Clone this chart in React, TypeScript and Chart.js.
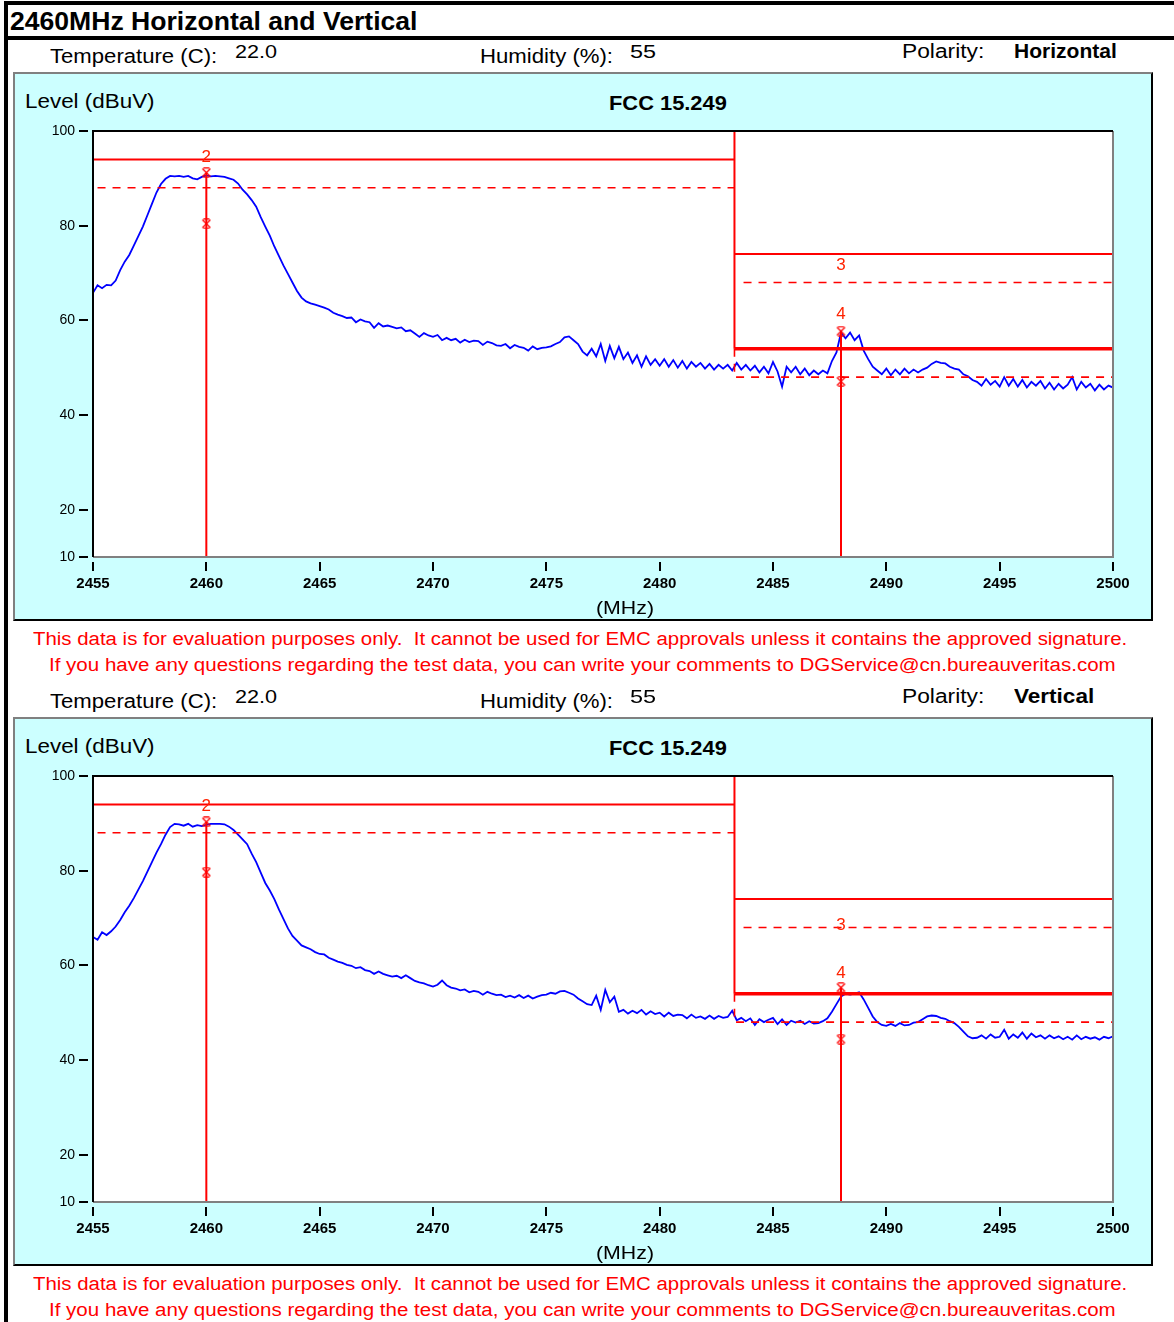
import React, { useEffect, useLayoutEffect, useRef } from 'react';
import { Chart, registerables } from 'chart.js';

Chart.register(...registerables);

const FONT = '"Liberation Sans", Arial, Helvetica, sans-serif';

// ---- sweep / axes ----
const SWEEP_START_MHZ = 2455;
const SWEEP_STEP_MHZ = 0.2;
const X_MIN = 2455;
const X_MAX = 2500;
const Y_MIN = 10;
const Y_MAX = 100;
const X_TICKS = [2455, 2460, 2465, 2470, 2475, 2480, 2485, 2490, 2495, 2500];
const Y_TICKS = [10, 20, 40, 60, 80, 100];

// ---- measured traces (dBuV), one value per sweep step (5 per MHz) ----
const H_LEVEL = [
  65.8, 67.4, 66.8, 67.5, 67.4,
  68.4, 70.6, 72.4, 73.8, 75.8,
  77.8, 79.8, 82.2, 84.6, 87.0,
  88.8, 89.9, 90.5, 90.4, 90.5,
  90.3, 90.5, 90.0, 89.8, 90.3,
  90.6, 90.4, 90.5, 90.4, 90.3,
  90.0, 89.7, 88.9, 87.6, 86.6,
  85.4, 84.0, 81.8, 79.8, 77.9,
  75.6, 73.6, 71.6, 69.8, 68.0,
  66.2, 64.8, 64.0, 63.6, 63.3,
  63.0, 62.7, 62.3, 61.6, 61.2,
  60.9, 60.5, 60.6, 59.6, 60.2,
  59.8, 59.6, 58.4, 59.4, 58.7,
  58.9, 58.6, 58.3, 58.5, 57.7,
  57.9, 57.2, 56.5, 57.3, 56.8,
  56.5, 56.9, 55.8, 56.3, 55.8,
  56.1, 55.3, 55.9, 55.4, 55.7,
  55.6, 54.8, 55.5, 55.2, 54.7,
  54.6, 55.0, 54.1, 54.8, 54.4,
  54.2, 53.6, 54.5, 53.9, 54.2,
  54.3, 54.5, 55.0, 55.4, 56.4,
  56.6, 55.8, 55.0, 53.4, 52.6,
  54.0, 52.4, 55.0, 51.4, 54.6,
  52.0, 54.4, 51.8, 53.2, 51.0,
  52.6, 50.2, 52.4, 50.6, 51.8,
  50.4, 51.8, 50.2, 51.6, 50.0,
  51.4, 49.8, 51.2, 50.2, 51.0,
  49.8, 50.8, 49.6, 50.6, 49.8,
  50.6, 49.4, 51.0, 49.6, 50.6,
  49.4, 50.4, 49.0, 50.2, 48.8,
  51.2, 49.2, 46.0, 50.2, 49.0,
  50.2, 48.6, 49.8, 48.4, 49.4,
  48.6, 49.4, 48.8, 51.4, 53.2,
  57.4, 56.2, 57.4, 55.8, 56.8,
  53.6, 51.8, 50.2, 49.4, 48.6,
  49.8, 48.4, 49.6, 48.6, 49.8,
  48.8, 49.6, 49.0, 49.6, 50.0,
  50.8, 51.3, 51.0, 50.9, 50.2,
  49.8, 49.6, 48.6, 48.2, 47.4,
  47.0, 46.2, 47.6, 46.4, 47.2,
  46.0, 48.0, 46.2, 47.6, 46.0,
  47.4, 45.8, 47.0, 46.2, 47.2,
  45.6, 46.8, 45.4, 46.6, 45.6,
  46.4, 48.0, 45.4, 47.0, 45.8,
  46.6, 45.2, 46.4, 45.4, 46.2,
  45.8,
];

const V_LEVEL = [
  66.0, 65.4, 67.0, 66.4, 67.2,
  68.2, 69.6, 71.2, 72.6, 74.2,
  76.0, 77.8, 79.8, 81.8, 83.8,
  85.6, 87.6, 89.2, 89.9, 89.8,
  89.5, 89.9, 89.3, 89.6, 89.4,
  89.7, 89.9, 89.9, 89.9, 89.8,
  89.3, 88.6, 87.6, 86.6, 85.6,
  83.6, 81.8, 79.6, 77.4, 75.8,
  74.0, 71.8, 69.8, 67.8, 66.2,
  65.2, 64.2, 63.8, 63.4, 62.8,
  62.4, 62.3, 61.6, 61.2, 60.8,
  60.5, 60.1, 59.9, 59.4, 59.6,
  59.0, 58.8, 58.2, 58.7, 58.2,
  57.9, 57.6, 57.8, 57.3, 57.9,
  57.3, 56.7, 56.4, 56.2, 55.8,
  55.5, 55.9, 56.8, 55.8, 55.3,
  55.1, 54.7, 54.9, 54.3, 54.6,
  54.4, 53.8, 54.4, 54.0, 53.7,
  53.8, 53.3, 53.6, 53.2, 53.7,
  53.1, 53.6, 53.0, 53.4, 53.7,
  53.8, 54.2, 54.0, 54.5, 54.6,
  54.2, 53.8, 53.0, 52.4, 51.8,
  51.6, 53.6, 50.6, 54.8, 52.2,
  53.4, 50.2, 50.6, 49.8, 50.4,
  49.9, 50.6, 49.6, 50.3, 49.7,
  50.0, 49.2, 50.0, 49.3, 49.6,
  49.5, 48.8, 49.6, 48.9, 49.2,
  48.7, 49.4, 48.7, 49.3, 48.9,
  49.1, 50.4, 48.4, 48.9, 48.2,
  48.8, 47.4, 48.6, 48.0, 48.5,
  48.9, 47.6, 48.6, 47.4, 48.3,
  47.9, 48.3, 47.6, 48.2, 47.7,
  47.8, 48.2, 48.8, 50.2, 51.8,
  53.4, 54.0, 53.8, 54.0, 54.3,
  52.8, 51.0, 49.2, 48.0, 47.4,
  47.2, 47.6, 47.2, 47.8, 47.3,
  47.4, 47.9, 48.0, 48.6, 49.2,
  49.4, 49.3, 48.9, 48.7, 48.2,
  47.8, 47.0, 46.0, 45.0, 44.6,
  44.7, 45.2, 44.5, 45.4, 44.7,
  44.9, 46.4, 44.5, 45.4, 44.7,
  45.8, 44.5, 45.6, 44.8, 45.2,
  44.5, 45.2, 44.6, 45.0, 44.4,
  44.9, 44.3, 45.2, 44.4, 44.9,
  44.5, 44.8, 44.3, 44.9, 44.6,
  45.0,
];

// ---- FCC 15.249 limit lines ----
const BAND_EDGE_MHZ = 2483.3;
const FUND_LIMIT = 94;
const FUND_LIMIT_MARGIN = 88;
const RB_PEAK_LIMIT = 74;
const RB_PEAK_MARGIN = 68;
const RB_AVG_LIMIT = 54;
const RB_AVG_MARGIN = 48;

// ---- markers (peak / average) ----
const MARKER_FREQ = [2460, 2460, 2488, 2488];
const H_MARKER_LEVEL = [91.2, 80.4, 57.7, 47.1];
const V_MARKER_LEVEL = [90.3, 79.7, 55.3, 44.4];
const LABEL_TEXT = ['2', '3', '4'];
const LABEL_FREQ = [2460, 2488, 2488];
const H_LABEL_LEVEL = [94.5, 71.6, 61.2];
const V_LABEL_LEVEL = [93.6, 68.5, 58.3];

// ---- texts ----
const TITLE = '2460MHz Horizontal and Vertical';
const DISCLAIMER_1 = 'This data is for evaluation purposes only.  It cannot be used for EMC approvals unless it contains the approved signature.';
const DISCLAIMER_2 = 'If you have any questions regarding the test data, you can write your comments to DGService@cn.bureauveritas.com';

function Txt(props: any) {
  const { x, base, size, w, text, bold, color } = props;
  const ref = useRef<HTMLSpanElement>(null);
  useLayoutEffect(() => {
    const el = ref.current;
    if (!el) return;
    const fit = () => {
      el.style.transform = 'none';
      const nat = el.offsetWidth;
      if (w && nat > 0) el.style.transform = `scaleX(${w / nat})`;
    };
    fit();
    const fs: any = (document as any).fonts;
    if (fs && fs.ready) fs.ready.then(fit);
  }, [w, text]);
  return (
    <span
      ref={ref}
      style={{
        position: 'absolute',
        left: x,
        top: base - 0.847 * size,
        fontSize: size,
        lineHeight: `${size}px`,
        fontFamily: FONT,
        fontWeight: bold ? 700 : 400,
        color: color || '#000',
        whiteSpace: 'pre',
        transformOrigin: '0 0',
      }}
    >
      {text}
    </span>
  );
}

function makeMarkerGlyph() {
  const c = document.createElement('canvas');
  c.width = 11;
  c.height = 11;
  const g = c.getContext('2d')!;
  g.strokeStyle = '#ff0000';
  g.lineWidth = 1.3;
  g.beginPath();
  g.moveTo(1.5, 1.5);
  g.lineTo(9.5, 9.5);
  g.moveTo(9.5, 1.5);
  g.lineTo(1.5, 9.5);
  g.moveTo(2.5, 0.8);
  g.lineTo(8.5, 0.8);
  g.moveTo(2.5, 10.2);
  g.lineTo(8.5, 10.2);
  g.stroke();
  return c;
}

function line(points: number[][], color: string, width: number, dash: number[] = []) {
  return {
    type: 'line',
    data: points.map(([x, y]) => ({ x, y })),
    borderColor: color,
    borderWidth: width,
    borderDash: dash,
    pointRadius: 0,
    pointHoverRadius: 0,
    fill: false,
    tension: 0,
  };
}

function Spectrum(props: any) {
  const { top, levels, markerLevels, labelLevels } = props;
  const ref = useRef<HTMLCanvasElement>(null);

  useEffect(() => {
    const canvas = ref.current;
    if (!canvas) return;
    const RED = '#ff0000';
    const DASH = [8, 7];
    const glyph = makeMarkerGlyph();

    const trace = levels.map((v: number, i: number) => ({ x: SWEEP_START_MHZ + i * SWEEP_STEP_MHZ, y: v }));

    const datasets: any[] = [
      // marker vertical lines
      line([[MARKER_FREQ[0], markerLevels[0]], [MARKER_FREQ[0], Y_MIN]], RED, 2),
      line([[MARKER_FREQ[2], markerLevels[2]], [MARKER_FREQ[2], Y_MIN]], RED, 2),
      // marker symbols
      {
        type: 'line',
        data: MARKER_FREQ.map((f, i) => ({ x: f, y: markerLevels[i] })),
        showLine: false,
        pointStyle: glyph,
        pointRadius: 5,
        pointHoverRadius: 5,
        borderColor: RED,
        backgroundColor: RED,
      },
      // limits (solid)
      line([[X_MIN, FUND_LIMIT], [BAND_EDGE_MHZ, FUND_LIMIT]], RED, 2),
      line([[BAND_EDGE_MHZ, Y_MAX], [BAND_EDGE_MHZ, RB_AVG_LIMIT]], RED, 2),
      line([[BAND_EDGE_MHZ, RB_AVG_LIMIT], [X_MAX, RB_AVG_LIMIT]], RED, 3.5),
      line([[BAND_EDGE_MHZ, RB_PEAK_LIMIT], [X_MAX, RB_PEAK_LIMIT]], RED, 2),
      // limits (margin, dashed)
      line([[X_MIN + 0.2, FUND_LIMIT_MARGIN], [BAND_EDGE_MHZ, FUND_LIMIT_MARGIN]], RED, 1.6, DASH),
      line([[BAND_EDGE_MHZ, RB_AVG_LIMIT], [BAND_EDGE_MHZ, RB_AVG_MARGIN], [X_MAX, RB_AVG_MARGIN]], RED, 1.6, DASH),
      line([[BAND_EDGE_MHZ + 0.4, RB_PEAK_MARGIN], [X_MAX, RB_PEAK_MARGIN]], RED, 1.6, DASH),
      // measured trace
      {
        type: 'line',
        data: trace,
        borderColor: '#0000ff',
        borderWidth: 1.8,
        pointRadius: 0,
        pointHoverRadius: 0,
        fill: false,
        tension: 0,
      },
    ];

    const decor = {
      id: 'decor',
      beforeDraw(chart: any) {
        const { ctx, chartArea: a } = chart;
        ctx.save();
        ctx.fillStyle = '#ffffff';
        ctx.fillRect(a.left, a.top, a.right - a.left, a.bottom - a.top);
        ctx.restore();
      },
      afterDatasetsDraw(chart: any) {
        const { ctx, chartArea: a, scales } = chart;
        ctx.save();
        // frame
        ctx.lineWidth = 2;
        ctx.strokeStyle = '#808080';
        ctx.beginPath();
        ctx.moveTo(a.right, a.top);
        ctx.lineTo(a.right, a.bottom);
        ctx.lineTo(a.left, a.bottom);
        ctx.stroke();
        ctx.strokeStyle = '#000000';
        ctx.beginPath();
        ctx.moveTo(a.left, a.bottom);
        ctx.lineTo(a.left, a.top);
        ctx.lineTo(a.right, a.top);
        ctx.stroke();
        // tick marks
        ctx.lineWidth = 2;
        ctx.beginPath();
        Y_TICKS.forEach((v) => {
          const y = Math.round(scales.y.getPixelForValue(v));
          ctx.moveTo(a.left - 14, y);
          ctx.lineTo(a.left - 5, y);
        });
        X_TICKS.forEach((v) => {
          const x = Math.round(scales.x.getPixelForValue(v));
          ctx.moveTo(x, a.bottom + 5);
          ctx.lineTo(x, a.bottom + 14);
        });
        ctx.stroke();
        // marker labels
        ctx.font = `17px ${FONT}`;
        ctx.fillStyle = '#ff2200';
        ctx.textAlign = 'center';
        ctx.textBaseline = 'middle';
        LABEL_TEXT.forEach((t, i) => {
          ctx.fillText(t, scales.x.getPixelForValue(LABEL_FREQ[i]), scales.y.getPixelForValue(labelLevels[i]));
        });
        ctx.restore();
      },
    };

    const chart = new Chart(canvas, {
      type: 'line',
      data: { datasets },
      options: {
        animation: false,
        responsive: false,
        maintainAspectRatio: false,
        events: [],
        layout: { padding: { top: 11, right: 27, left: 0, bottom: 0 }, autoPadding: false },
        plugins: { legend: { display: false }, tooltip: { enabled: false }, title: { display: false } },
        scales: {
          x: {
            type: 'linear',
            min: X_MIN,
            max: X_MAX,
            afterBuildTicks: (s: any) => {
              s.ticks = X_TICKS.map((v) => ({ value: v }));
            },
            afterFit: (s: any) => {
              s.height = 58;
            },
            grid: { display: false, drawTicks: true, tickLength: 18 },
            border: { display: false },
            ticks: {
              padding: 0,
              autoSkip: false,
              maxRotation: 0,
              color: '#000',
              font: { family: FONT, size: 15, weight: 'bold' },
              callback: (v: any) => String(v),
            },
          },
          y: {
            type: 'linear',
            min: Y_MIN,
            max: Y_MAX,
            afterBuildTicks: (s: any) => {
              s.ticks = Y_TICKS.map((v) => ({ value: v }));
            },
            afterFit: (s: any) => {
              s.width = 53;
            },
            grid: { display: false, drawTicks: true, tickLength: 18 },
            border: { display: false },
            ticks: {
              padding: 0,
              autoSkip: false,
              color: '#000',
              font: { family: FONT, size: 14 },
              callback: (v: any) => String(v),
            },
          },
        },
      } as any,
      plugins: [decor],
    } as any);
    return () => chart.destroy();
  }, []);

  return (
    <canvas
      ref={ref}
      width={1100}
      height={495}
      style={{ position: 'absolute', left: 40, top, width: 1100, height: 495 }}
    />
  );
}

function Block(props: any) {
  const { dy, polarity, polW, levels, markerLevels, labelLevels } = props;
  return (
    <>
      <Txt x={50} base={63 + dy} size={20} w={167} text="Temperature (C):" />
      <Txt x={235} base={58 + dy} size={18} w={42} text="22.0" />
      <Txt x={480} base={63 + dy} size={20} w={133} text="Humidity (%):" />
      <Txt x={630} base={58 + dy} size={18} w={26} text="55" />
      <Txt x={902} base={58 + dy} size={20} w={82} text="Polarity:" />
      <Txt x={1014} base={58 + dy} size={20} w={polW} bold text={polarity} />
      <div
        style={{
          position: 'absolute',
          left: 13,
          top: 72 + dy,
          width: 1140,
          height: 549,
          boxSizing: 'border-box',
          background: '#ccffff',
          borderTop: '2px solid #808080',
          borderLeft: '2px solid #808080',
          borderRight: '2px solid #000',
          borderBottom: '2px solid #000',
        }}
      />
      <Txt x={25} base={108 + dy} size={20} w={130} text="Level (dBuV)" />
      <Txt x={609} base={110 + dy} size={20} w={118} bold text="FCC 15.249" />
      <Spectrum top={120 + dy} levels={levels} markerLevels={markerLevels} labelLevels={labelLevels} />
      <Txt x={596} base={614 + dy} size={18} w={58} text="(MHz)" />
      <Txt x={33} base={645 + dy} size={18} w={1094} color="#ff0000" text={DISCLAIMER_1} />
      <Txt x={49} base={671 + dy} size={18} w={1067} color="#ff0000" text={DISCLAIMER_2} />
    </>
  );
}

export default function App() {
  return (
    <div
      style={{
        position: 'absolute',
        left: 0,
        top: 0,
        width: 1174,
        height: 1322,
        overflow: 'hidden',
        background: '#ffffff',
        fontFamily: FONT,
      }}
    >
      <div style={{ position: 'absolute', left: 4, top: 1, width: 1170, height: 4, background: '#000' }} />
      <div style={{ position: 'absolute', left: 4, top: 36, width: 1170, height: 4, background: '#000' }} />
      <div style={{ position: 'absolute', left: 4, top: 1, width: 4, height: 1321, background: '#000' }} />
      <Txt x={10} base={30} size={25} w={407} bold text={TITLE} />
      <Block dy={0} polarity="Horizontal" polW={103} levels={H_LEVEL} markerLevels={H_MARKER_LEVEL} labelLevels={H_LABEL_LEVEL} />
      <Block dy={645} polarity="Vertical" polW={80} levels={V_LEVEL} markerLevels={V_MARKER_LEVEL} labelLevels={V_LABEL_LEVEL} />
    </div>
  );
}
